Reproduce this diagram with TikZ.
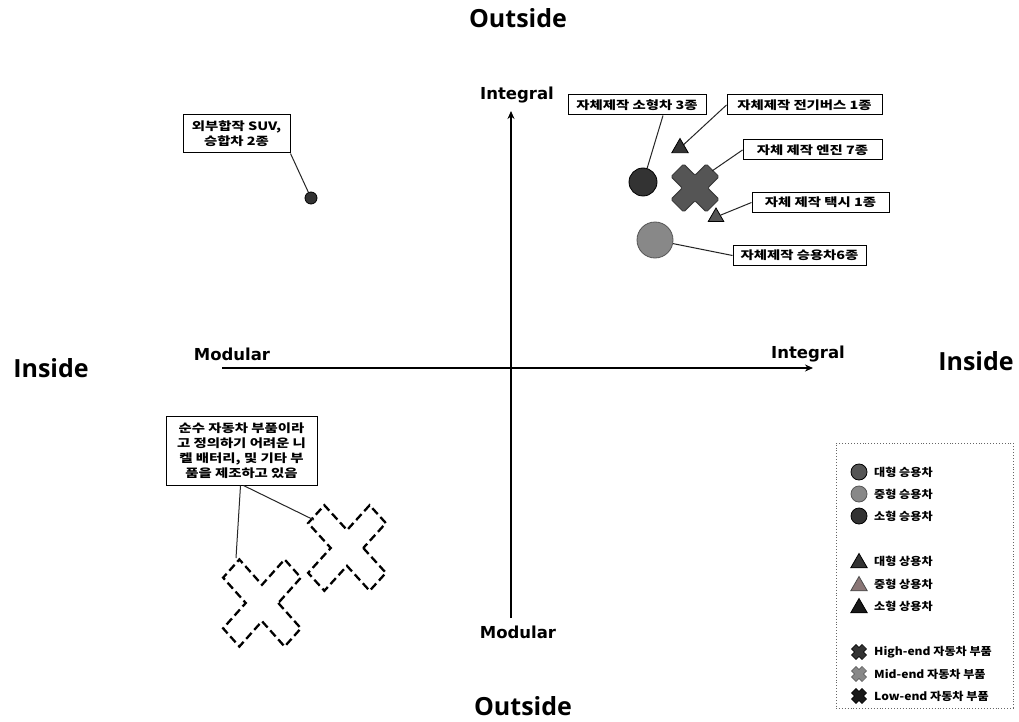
\documentclass[tikz,border=0pt]{standalone}
\usepackage{fontspec}
\setmainfont{Open Sans}
\newfontfamily\axisfont{DejaVu Sans}
\newfontfamily\kr[FakeStretch=1.25]{Noto Sans CJK KR}
\newfontfamily\krl[FakeStretch=1.1]{Noto Sans CJK KR}
\usetikzlibrary{arrows.meta,shapes.geometric}

% cross ("X") drawn as a plus rotated by 45 degrees
% #1 style, #2 centre, #3 half arm length, #4 half arm width
\newcommand\xcross[4][]{%
  \path[shift={#2},#1,rotate=45]
    (#4,#4) -- (#4,#3) -- (-#4,#3) -- (-#4,#4) -- (-#3,#4) -- (-#3,-#4)
    -- (-#4,-#4) -- (-#4,-#3) -- (#4,-#3) -- (#4,-#4) -- (#3,-#4) -- (#3,#4) -- cycle;}

\definecolor{dk}{HTML}{333333}
\definecolor{md}{HTML}{555555}
\definecolor{lt}{HTML}{888888}
\definecolor{rgray}{HTML}{8A7676}

\tikzset{
  side/.style={font=\bfseries\fontsize{25}{28}\selectfont, anchor=base},
  axlabel/.style={font=\axisfont\bfseries\fontsize{16.5}{18}\selectfont, anchor=base},
  axis/.style={line width=1.4pt, -{Stealth[length=8pt,width=7pt]}},
  lbl/.style={draw=black, line width=1pt, fill=white, inner sep=0pt,
    minimum height=20pt, align=center,
    font=\kr\bfseries\fontsize{11.5}{15}\selectfont},
  conn/.style={draw=black!85, line width=1pt},
  dot/.style={circle, draw=black, line width=0.8pt, inner sep=0pt},
  tri/.style={regular polygon, regular polygon sides=3, draw=black,
    line width=0.8pt, inner sep=0pt},
  legtext/.style={anchor=west, inner sep=0pt,
    font=\krl\bfseries\fontsize{11}{12}\selectfont},
  dashx/.style={draw=black, line width=2.3pt, dash pattern=on 8pt off 4pt},
}

\begin{document}
\begin{tikzpicture}[x=1pt,y=-1pt]
\useasboundingbox (0,0) rectangle (1019,722);
\fill[white] (0,0) rectangle (1019,722);

% quadrant titles
\node[side] (outtop) at (518,28) {Outside};
\node[side] (outbot) at (523,715) {Outside};
\node[side] (inleft) at (51,377) {Inside};
\node[side] (inright) at (976,370) {Inside};

% axes
\coordinate (hl) at (222,368);
\coordinate (hr) at (813,368);
\coordinate (vb) at (511,618);
\coordinate (vt) at (511,111);
\draw[axis] (hl) -- (hr);
\draw[axis] (vb) -- (vt);
\node[axlabel] (modl) at (232,360) {Modular};
\node[axlabel] (intr) at (808,358) {Integral};
\node[axlabel] (intt) at (517,100) {Integral};
\node[axlabel] (modb) at (518,638) {Modular};

% upper left: joint venture
\node[lbl, minimum width=107pt, minimum height=38pt] (suv) at (236.5,134)
  {외부합작 SUV,\\승합차 2종};
\node[dot, fill=dk, minimum size=12pt] (suvdot) at (311,198) {};
\draw[conn] (suv.south east) -- (suvdot);

% upper right: in-house products
\node[dot, fill=dk, minimum size=28pt] (smallcar) at (643,182) {};
\node[dot, fill=lt, draw=md, minimum size=36pt] (sedan) at (655,240) {};
\node[tri, fill=dk, minimum size=19pt] (ebus) at (680,148) {};
\node[tri, fill=md, minimum size=18pt] (taxi) at (716,217) {};
\coordinate (engine) at (695,188);
\coordinate (engtip) at (712,171);
\xcross[fill=md, draw=black!80, line width=0.8pt, rounded corners=1.5pt]{(engine)}{25}{9}

\node[lbl, minimum width=138pt] (b1) at (637,105) {자체제작 소형차 3종};
\node[lbl, minimum width=155pt] (b2) at (804.5,105) {자체제작 전기버스 1종};
\node[lbl, minimum width=139pt] (b3) at (812.5,150) {자체 제작 엔진 7종};
\node[lbl, minimum width=137pt] (b4) at (820.5,202.5) {자체 제작 택시 1종};
\node[lbl, minimum width=133pt] (b5) at (799.5,255.5) {자체제작 승용차6종};

\draw[conn] ([xshift=26pt]b1.south) -- (smallcar);
\draw[conn] (b2.west) -- (ebus);
\draw[conn] (b3.west) -- (engtip);
\draw[conn] (b4.west) -- (taxi);
\draw[conn] (sedan) -- (b5.west);

% lower left: non-automotive parts
\node[lbl, minimum width=151pt, minimum height=69pt] (low) at (241.5,450.5)
  {순수 자동차 부품이라\\고 정의하기 어려운 니\\켈 배터리, 및 기타 부\\품을 제조하고 있음};
\coordinate (xa) at (262,603);
\coordinate (xb) at (347,548);
\coordinate (xatip) at (236,558);
\coordinate (xbtip) at (314,520);
\xcross[dashx, yscale=1.12]{(xa)}{43.5}{11.5}
\xcross[dashx, yscale=1.1]{(xb)}{43.5}{11.5}
\draw[conn] ([xshift=-1pt]low.south) -- (xatip);
\draw[conn] ([xshift=2pt]low.south) -- (xbtip);

% legend
\node[draw=black!60, line width=0.9pt, dotted, minimum width=177pt,
  minimum height=265pt, inner sep=0pt] (legend) at (924.5,575.5) {};
\node[dot, fill=md, minimum size=16pt] (lc1) at (859,472) {};
\node[dot, fill=lt, draw=md, minimum size=16pt] (lc2) at (859,494) {};
\node[dot, fill=dk, minimum size=16pt] (lc3) at (859,516) {};
\node[tri, fill=dk, minimum size=19pt] (lt1) at (859,563) {};
\node[tri, fill=rgray, draw=black!70, minimum size=19pt] (lt2) at (859,586) {};
\node[tri, fill=black!90, minimum size=19pt] (lt3) at (859,608) {};
\coordinate (lx1) at (859,652);
\coordinate (lx2) at (859,674);
\coordinate (lx3) at (859,696);
\xcross[fill=dk, draw=black, line width=0.5pt]{(lx1)}{7.5}{3.2}
\xcross[fill=lt, draw=md, line width=0.5pt]{(lx2)}{7.5}{3.2}
\xcross[fill=black!90, draw=black, line width=0.5pt]{(lx3)}{7.5}{3.2}

\node[legtext] (t1) at (874,472) {대형 승용차};
\node[legtext] (t2) at (874,494) {중형 승용차};
\node[legtext] (t3) at (874,516) {소형 승용차};
\node[legtext] (t4) at (874,561) {대형 상용차};
\node[legtext] (t5) at (874,584) {중형 상용차};
\node[legtext] (t6) at (874,606) {소형 상용차};
\node[legtext] (t7) at (874,652) {High-end 자동차 부품};
\node[legtext] (t8) at (874,674) {Mid-end 자동차 부품};
\node[legtext] (t9) at (874,696) {Low-end 자동차 부품};
\end{tikzpicture}
\end{document}
